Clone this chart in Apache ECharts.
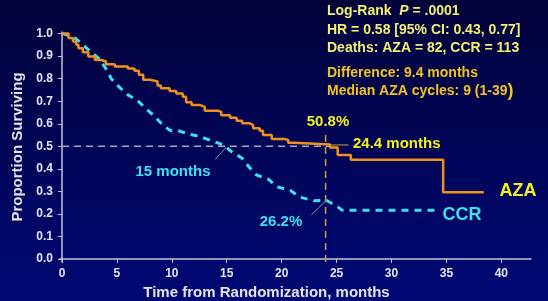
<!DOCTYPE html>
<html>
<head>
<meta charset="utf-8">
<script src="https://cdn.jsdelivr.net/npm/echarts@6/dist/echarts.min.js"></script>
<style>
html,body{margin:0;padding:0;}
#chart{width:548px;height:301px;}
</style>
</head>
<body>
<div id="chart"></div>
<script>
// 数据
var xTicks = [0, 5, 10, 15, 20, 25, 30, 35, 40];
var yTicks = [0, 0.1, 0.2, 0.3, 0.4, 0.5, 0.6, 0.7, 0.8, 0.9, 1.0];

var azaTime = [0, 0.6, 1.0, 1.3, 1.5, 1.9, 2.4, 3.0, 3.6, 4.0, 4.8, 6.0, 6.6, 7.0, 7.4, 8.0, 8.7, 9.0, 9.8, 10.4, 11.0, 11.3, 11.8, 12.6, 13.0, 14.2, 14.5, 15.3, 15.9, 16.4, 17.1, 17.4, 18.0, 18.3, 19.1, 20.3, 20.6, 21.1, 24.4, 25.1, 26.3, 34.7, 38.4];
var azaSurv = [1.0, 0.98, 0.965, 0.95, 0.935, 0.917, 0.898, 0.883, 0.876, 0.864, 0.854, 0.845, 0.835, 0.817, 0.795, 0.788, 0.770, 0.758, 0.745, 0.734, 0.72, 0.695, 0.683, 0.675, 0.658, 0.653, 0.638, 0.627, 0.613, 0.602, 0.594, 0.58, 0.569, 0.55, 0.532, 0.528, 0.516, 0.508, 0.495, 0.461, 0.44, 0.296, 0.296];

var ccrTime = [0, 1.0, 1.76, 2.58, 3.34, 3.98, 4.49, 5.25, 6.0, 6.9, 7.68, 8.44, 9.2, 9.9, 10.6, 11.35, 12.57, 13.6, 14.7, 15.45, 16.4, 17.0, 17.7, 18.8, 19.55, 20.8, 21.7, 22.9, 24.1, 25.0, 25.5, 34.1];
var ccrSurv = [1.0, 0.987, 0.957, 0.92, 0.89, 0.846, 0.80, 0.761, 0.728, 0.702, 0.665, 0.633, 0.593, 0.569, 0.569, 0.557, 0.543, 0.525, 0.506, 0.476, 0.447, 0.41, 0.373, 0.354, 0.321, 0.304, 0.274, 0.259, 0.260, 0.235, 0.217, 0.217];

// 参考线 / 引线
var medianLine = [[0, 0.5], [24.4, 0.5]];
var month24Line = [[24, -0.013], [24, 0.56]];
var lead15 = [[14.94, 0.495], [13.93, 0.442]];
var lead262 = [[24.1, 0.262], [22.7, 0.196]];
var lead244 = [[24.4, 0.506], [26.1, 0.506]];

function zip(a, b){ return a.map(function(v, i){ return [v, b[i]]; }); }

var font = 'Liberation Sans, Arial, sans-serif';
var axisColor = '#c4c4d4';
var labelColor = '#e4e4ec';
var yellow = '#f4f01c';
var cyan = '#3fe0ee';
var orange = '#f0901e';
var paleYellow = '#f2ee70';
var gold = '#f2c41c';

var myChart = echarts.init(document.getElementById('chart'), null, {renderer: 'canvas'});

function leadSeries(data, color, width, type){
	return {
		type: 'line', data: data, symbol: 'none', silent: true, animation: false,
		lineStyle: {color: color, width: width, type: type || 'solid'}, z: 1
	};
}

function txt(x, y, s, color, size, align){
	return {type: 'text', x: x, y: y, style: {
		text: s, fill: color, fontSize: size, fontWeight: 'bold', fontFamily: font,
		align: align || 'center', verticalAlign: 'middle'
	}};
}

var option = {
	backgroundColor: {
		type: 'linear', x: 0, y: 0, x2: 0, y2: 1,
		colorStops: [{offset: 0, color: '#02023a'}, {offset: 1, color: '#000874'}]
	},
	animation: false,
	grid: {left: 60, top: 32, width: 471, height: 230, outerBoundsMode: 'none', containLabel: false},
	xAxis: {
		type: 'value', min: -0.18, max: 42.7,
		name: 'Time from Randomization, months', nameLocation: 'middle', nameGap: 23,
		nameTextStyle: {color: labelColor, fontSize: 15, fontWeight: 'bold', fontFamily: font, padding: [0, 58, 0, 0]},
		axisLine: {show: true, lineStyle: {color: axisColor, width: 1.5}},
		axisTick: {show: true, length: 4, customValues: xTicks, lineStyle: {color: axisColor}},
		axisLabel: {customValues: xTicks, color: labelColor, fontSize: 12, fontWeight: 'bold', fontFamily: font, margin: 6},
		splitLine: {show: false}
	},
	yAxis: {
		type: 'value', min: -0.013, max: 1.007,
		name: 'Proportion Surviving', nameLocation: 'middle', nameGap: 32,
		nameTextStyle: {color: labelColor, fontSize: 15, fontWeight: 'bold', fontFamily: font},
		axisLine: {show: true, lineStyle: {color: axisColor, width: 1.5}},
		axisTick: {show: true, length: 4, customValues: yTicks, lineStyle: {color: axisColor}},
		axisLabel: {
			customValues: yTicks, color: labelColor, fontSize: 12, fontWeight: 'bold', fontFamily: font, margin: 7,
			formatter: function(v){ return v.toFixed(1); }
		},
		splitLine: {show: false}
	},
	series: [
		leadSeries(medianLine, '#a8a8b8', 1.5, [7, 5]),
		leadSeries(month24Line, '#c8a040', 1.5, [7, 5]),
		leadSeries(lead15, '#9090a0', 1),
		leadSeries(lead262, '#9090a0', 1),
		leadSeries(lead244, '#c8a040', 1),
		{
			name: 'CCR', type: 'line', data: zip(ccrTime, ccrSurv), symbol: 'none', z: 3,
			lineStyle: {color: cyan, width: 3, type: [7, 6]}
		},
		{
			name: 'AZA', type: 'line', step: 'end', data: zip(azaTime, azaSurv), symbol: 'none', z: 4,
			lineStyle: {color: orange, width: 2.5}
		}
	],
	graphic: [
		{type: 'text', left: 327, top: 4, style: {
			text: '{a|Log-Rank  }{i|P}{a| = .0001}',
			rich: {
				a: {fill: paleYellow, fontSize: 14, fontWeight: 'bold', fontFamily: font},
				i: {fill: paleYellow, fontSize: 14, fontWeight: 'bold', fontStyle: 'italic', fontFamily: font}
			}
		}},
		{type: 'text', left: 327, top: 23, style: {text: 'HR = 0.58 [95% CI: 0.43, 0.77]', fill: paleYellow, fontSize: 14, fontWeight: 'bold', fontFamily: font}},
		{type: 'text', left: 327, top: 41, style: {text: 'Deaths: AZA = 82, CCR = 113', fill: paleYellow, fontSize: 14, fontWeight: 'bold', fontFamily: font}},
		{type: 'text', left: 327, top: 66, style: {text: 'Difference: 9.4 months', fill: gold, fontSize: 14, fontWeight: 'bold', fontFamily: font}},
		{type: 'text', left: 327, top: 82, style: {
			text: '{a|Median AZA cycles: 9 (1-39}{b|)}',
			rich: {
				a: {fill: gold, fontSize: 14, fontWeight: 'bold', fontFamily: font},
				b: {fill: gold, fontSize: 18, fontWeight: 'bold', fontFamily: font}
			}
		}},
		txt(328, 122, '50.8%', yellow, 15),
		txt(353, 144, '24.4 months', yellow, 15, 'left'),
		txt(518, 191, 'AZA', yellow, 18),
		txt(462, 215, 'CCR', cyan, 18),
		txt(281, 222, '26.2%', cyan, 15),
		txt(173, 172, '15 months', cyan, 15)
	]
};

myChart.setOption(option);
</script>
</body>
</html>
